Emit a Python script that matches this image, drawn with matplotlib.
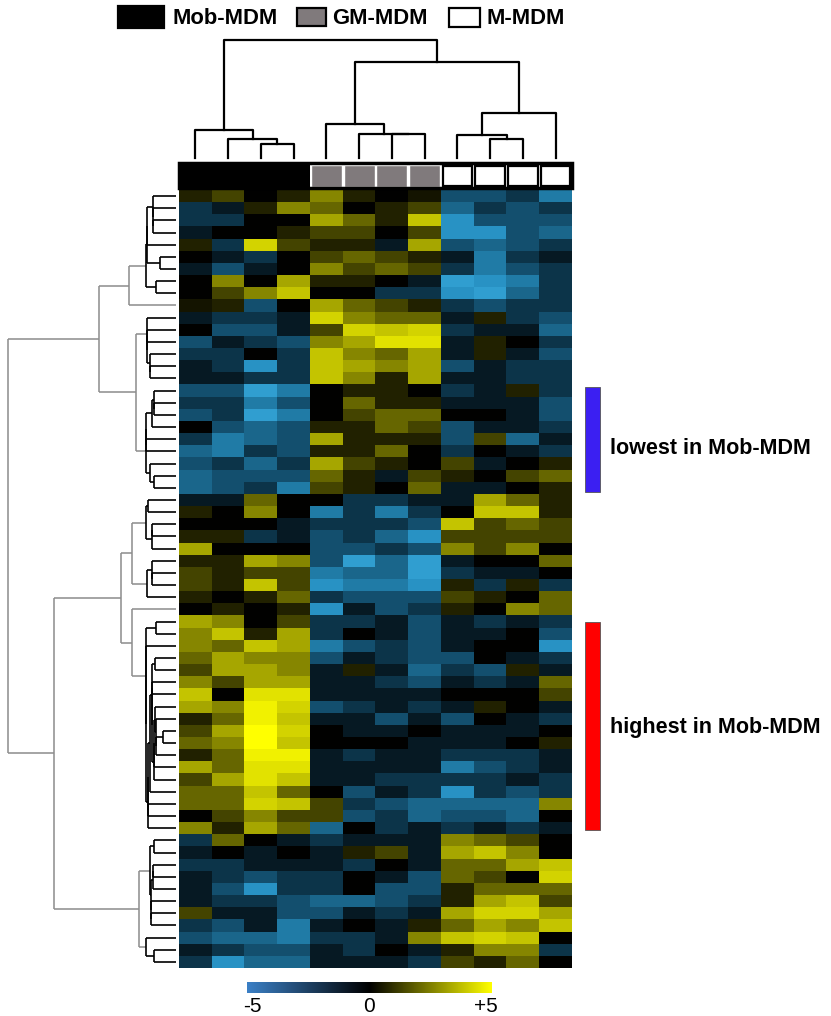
import numpy as np
import matplotlib
matplotlib.use("Agg")
import matplotlib.pyplot as plt
import matplotlib.patches as patches
from matplotlib.colors import LinearSegmentedColormap

plt.rcParams['font.family'] = ['Liberation Sans', 'DejaVu Sans']

W, H = 831, 1016

groups = ["Mob-MDM", "GM-MDM", "M-MDM"]
group_colors = ["#000000", "#807a7c", "#ffffff"]
sample_group = [0, 0, 0, 0, 1, 1, 1, 1, 2, 2, 2, 2]

# column tree, scipy style: (left id, right id, height); leaves are 0..11
col_merges = [
    (2, 3, 14), (1, 12, 19), (0, 13, 28),
    (6, 7, 24), (5, 15, 24), (4, 16, 34),
    (9, 10, 19), (8, 18, 23), (19, 11, 45),
    (17, 20, 96), (14, 21, 118),
]

# log2 ratio per gene band (rows, top to bottom) x sample (columns)
expr_rows = [
    [0.5, 1, 0, 0.5, 2, 0.5, 0, 0.3, -1.5, -1.5, -1, -2.5],
    [-1, -0.5, 0.5, 2, 1.5, 0, 0.5, 1, -2, -1, -1.5, -1],
    [-1, -1, 0, 0, 2.5, 1.5, 0.5, 3, -3, -1.5, -1.5, -1.5],
    [-0.5, 0, 0, 0.5, 1, 1, 0, 1, -3, -3, -1.5, -2],
    [0.5, -1, 3.5, 1, 0.5, 0.5, -0.5, 2.5, -1.5, -2, -1.5, -1],
    [0, -0.5, -1, 0, 1, 1.5, 1, 0.5, -0.5, -2.5, -1, -0.5],
    [-0.5, -1.5, -0.5, 0, 2, 1, 1.5, 1, -1, -2.5, -1.5, -1],
    [0, 2, 0, 2.5, 0.5, 0.5, 0, -0.5, -3.5, -3, -2.5, -1],
    [0, 1, 2, 3, 0, 0, -1, -1, -3, -3.5, -2, -1],
    [0.3, 0.5, -1.5, 0, 2.5, 1.5, 1, 0.5, -1, -1.5, -1, -1],
    [-0.5, -1, -1, -0.5, 3.5, 2, 1.5, 1.5, -0.5, 0.5, -1, -1.5],
    [0, -1.5, -1.5, -0.5, 1, 3.5, 3, 3.5, -1, -0.5, -0.5, -2],
    [-1.5, -0.5, -1, -1.5, 2, 2.5, 4, 4, -0.5, 0.5, 0, -1],
    [-1, -1, 0, -1, 3, 2, 1.5, 2.5, -0.5, 0.5, -0.5, -1.5],
    [-0.5, -1, -3, -1, 3, 2.5, 2, 2.5, -1.5, -0.5, -1, -1],
    [-0.5, -0.5, -1, -1, 3, 2, 0.5, 2.5, -0.5, -0.5, -1, -1],
    [-1.5, -1.5, -3.5, -2.5, 0, 0.5, 0.5, 0, -1, -0.5, 0.5, -1],
    [-1, -1, -2.5, -1.5, 0, 1.5, 0.5, 0.5, -0.5, -0.5, -0.5, -1.5],
    [-1.5, -1, -3.5, -2.5, 0, 1, 1.5, 1.5, 0, 0, -0.5, -1.5],
    [0, -1.5, -2, -1.5, 0.5, 0.5, 1.5, 1, -1.5, -0.5, -0.5, -1],
    [-1, -2.5, -2, -1.5, 2.5, 0.5, 0.5, 0.5, -1.5, 1, -2, -0.5],
    [-2, -2.5, -1, -1.5, 0.5, 0.5, 1.5, 0, -1, 0, -0.5, -1],
    [-1.5, -1, -2, -1, 2.5, 1, 0.5, 0, 1, -0.5, 0, 0.5],
    [-2, -1.5, -1.5, -1.5, 1.5, 0.5, -0.5, 1, 0.5, 0, 1, 1.5],
    [-2, -1.5, -1, -2.5, 1, 0.5, 0, 1.5, -0.5, -0.5, 0, 0.5],
    [-0.5, -0.5, 1.5, 0, 0, -1, -1, -0.5, -0.5, 2.5, 1.5, 0.5],
    [0.5, 0, 2, 0, -2.5, -1, -2.5, -1, 0, 3, 3, 0.5],
    [0, 0, 0, -0.5, -1, -1, -1, -1.5, 3, 1, 1.5, 1],
    [0.5, 0.5, -1, -0.5, -1.5, -1, -2, -3, 1, 1, 1, 1],
    [2.5, 0, 0, 0, -1.5, -1.5, -1, -1.5, 2, 1, 2, 0],
    [0.5, 0.5, 2.5, 2, -1.5, -3.5, -2, -3.5, -0.5, 0, 0, 1.5],
    [1, 0.5, 1, 1, -2.5, -2, -2, -3.5, -1, -0.5, -0.5, 0],
    [1, 0.5, 3, 1, -3, -2.5, -2.5, -3, 0.5, -1, 0.5, -1],
    [0.5, 0, 0.5, 1.5, -1, -1.5, -1.5, -1.5, 1, 0.5, 0, 1.5],
    [0, 0.5, 0, 0.5, -3, -0.5, -1.5, -1, 0.5, 0, 2, 1.5],
    [2.5, 2, 0, 1, -1, -1, -0.5, -1.5, -0.5, -1, -0.5, -1],
    [2, 3, 0.5, 2.5, -1, 0, -0.5, -1.5, -0.5, -0.5, 0, -1.5],
    [2, 1.5, 3, 2.5, -2.5, -1.5, -1, -1.5, -0.5, 0, 0, -3],
    [1.5, 2.5, 2, 2, -1.5, -0.5, -1, -1.5, -1.5, 0, -0.5, -1],
    [1, 2.5, 2.5, 2, -0.5, 0.5, -0.5, -2, -1, -1.5, 0.5, -0.5],
    [2, 1, 2.5, 2.5, -0.5, -0.5, -1, -1.5, -0.5, -1, -0.5, 1.5],
    [3, 0, 4, 4, -0.5, -0.5, -0.5, -0.5, 0, 0, 0, 1],
    [2.5, 2, 4.5, 3.5, -1.5, -1, -0.5, -1, -0.5, 0.5, 0, -0.5],
    [0.5, 1.5, 4.5, 3, -0.5, -0.5, -1.5, -0.5, -1.5, 0, -0.5, -1],
    [1, 2.5, 5, 3.5, 0, -0.5, -0.5, 0, -0.5, -0.5, -0.5, 0],
    [1.5, 2, 5, 3, 0, 0, 0, -0.5, -0.5, -0.5, 0, 0.5],
    [0.5, 1.5, 4.5, 4.5, -0.5, -1, -0.5, -0.5, -1, -1, -1, -0.5],
    [2.5, 1.5, 4, 4, -0.5, -0.5, -0.5, -0.5, -2.5, -1.5, -1, -0.5],
    [1, 2.5, 4, 3, -0.5, -0.5, -1, -1, -1, -1, -0.5, -1],
    [1.5, 1.5, 3, 1.5, 0, -1.5, -0.5, -1, -3, -1, -1.5, -1],
    [1.5, 1.5, 3.5, 3, 1, -1, -1.5, -2, -2, -2, -2, 2],
    [0, 1, 2, 1, 1, -1.5, -1, -2, -1.5, -1.5, -2, 0],
    [2, 0.5, 2.5, 1.5, -2, 0, -1, -0.5, -1, -0.5, -1, -0.5],
    [-1, 1.5, 0, -0.5, -1, -0.5, -0.5, -0.5, 2, 1.5, 1, 0],
    [-0.5, 0, -0.5, 0, -0.5, 0.5, 1, -0.5, 2.5, 3, 2, 0],
    [-1, -1, -0.5, -0.5, -0.5, -1, 0, -0.5, 1.5, 1.5, 2.5, 3],
    [-0.5, -1, -1.5, -1, -1, 0, -0.5, -1.5, 1.5, 1, 0, 3.5],
    [-0.5, -1.5, -3, -1, -1, 0, -1.5, -1.5, 0.5, 1.5, 1.5, 1.5],
    [-0.5, -1, -1, -1.5, -2, -2, -1.5, -1, 0.5, 2.5, 3, 1],
    [1, -0.5, -0.5, -1.5, -1.5, -0.5, -1, -0.5, 2.5, 3.5, 3.5, 2.5],
    [-1, -1.5, -0.5, -2.5, -0.5, 0, -0.5, 0.5, 1.5, 2.5, 2, 3],
    [-1.5, -2, -2, -2.5, -1, -1, -0.5, 2, 3, 3.5, 3, 0],
    [-0.5, -1, -1.5, -1.5, -0.5, -1, 0, -0.5, 0.5, 2, 2, -1],
    [-1, -3, -2, -2, -0.5, -0.5, -0.5, -1, 1, 0.5, 1.5, 0],
]

# main row clusters (row ranges) and the heights they join at
row_groups = [(0, 10), (10, 25), (25, 34), (34, 53), (53, 64)]
row_group_heights = [0.28, 0.24, 0.26, 0.26, 0.22]
# groups are ids 0..4, new nodes get 5, 6, ...
row_top_merges = [(0, 1, 0.46), (2, 3, 0.33), (6, 4, 0.73), (5, 7, 1.0)]

cbar_ticks = [-5, 0, 5]
cbar_labels = ["-5", "0", "+5"]

data = np.array(expr_rows, dtype=float)
n_rows, n_cols = data.shape

# heatmap colours, slightly brighter mid-range than a plain 3-stop ramp
cmap = LinearSegmentedColormap.from_list(
    "blue_black_yellow",
    [(0.0, "#48c4f4"), (0.2, "#2892c4"), (0.35, "#134f6e"), (0.5, "#000000"),
     (0.65, "#666600"), (0.8, "#c4c400"), (1.0, "#ffff00")])
# the colour key in the figure is drawn with a duller blue end
cmap_key = LinearSegmentedColormap.from_list("key", ["#3b80c6", "#000000", "#ffff00"])


def fig_box(x0, y0, x1, y1):
    """pixel box (top-left origin) -> add_axes rect"""
    return [x0 / W, 1 - y1 / H, (x1 - x0) / W, (y1 - y0) / H]


def adjacent_tree(block, offset):
    """
    Agglomerative clustering that only joins neighbouring clusters,
    so the leaf order stays the same as the heatmap rows.
    """
    clusters = [{"n": 1, "y": offset + i + 0.5, "h": 0.0, "kids": None} for i in range(len(block))]
    means = [block[i].copy() for i in range(len(block))]
    while len(clusters) > 1:
        d = [np.linalg.norm(means[i] - means[i + 1]) for i in range(len(clusters) - 1)]
        k = int(np.argmin(d))
        a, b = clusters[k], clusters[k + 1]
        node = {"n": a["n"] + b["n"], "y": (a["y"] + b["y"]) / 2,
                "h": max(d[k], a["h"], b["h"]), "kids": (a, b)}
        means[k] = (means[k] * a["n"] + means[k + 1] * b["n"]) / node["n"]
        del means[k + 1]
        clusters[k] = node
        del clusters[k + 1]
    return clusters[0]


def internal_nodes(node, out):
    if node["kids"] is not None:
        out.append(node)
        for kid in node["kids"]:
            internal_nodes(kid, out)
    return out


inner_max = 0.18


def draw_row_node(ax, node):
    if node["kids"] is None:
        return
    a, b = node["kids"]
    low = node["h"] <= inner_max + 1e-9
    col = "#000000" if low else "#8c8c8c"
    lw = 1.2 if low else 1.1
    for kid in (a, b):
        ax.plot([kid["h"], node["h"]], [kid["y"], kid["y"]], color=col, lw=lw, solid_capstyle="butt")
        draw_row_node(ax, kid)
    ax.plot([node["h"], node["h"]], [a["y"], b["y"]], color=col, lw=lw, solid_capstyle="butt")


fig = plt.figure(figsize=(W / 100, H / 100), dpi=100)

# overlay for legend, side bars and labels
ax_o = fig.add_axes([0, 0, 1, 1])
ax_o.set_xlim(0, W)
ax_o.set_ylim(H, 0)
ax_o.set_axis_off()

legend_boxes = [(118, 6, 46, 22), (297, 8, 29, 18), (449, 8, 31, 19)]
legend_text_x = [173, 332, 487]
for (bx, by, bw, bh), gname, gcol, tx in zip(legend_boxes, groups, group_colors, legend_text_x):
    ax_o.add_patch(patches.Rectangle((bx, by), bw, bh, facecolor=gcol, edgecolor="black", lw=1.6))
    ax_o.text(tx, by + bh / 2 + 1, gname, fontsize=15.8, fontweight="bold", ha="left", va="center")

ax_o.add_patch(patches.Rectangle((585, 387), 15, 105, facecolor="#3b1ff2", edgecolor="#555555", lw=0.6))
ax_o.add_patch(patches.Rectangle((585, 622), 15, 208, facecolor="#ff0000", edgecolor="#555555", lw=0.6))
ax_o.text(610, 448, "lowest in Mob-MDM", fontsize=15.5, fontweight="bold", ha="left", va="center")
ax_o.text(610, 727, "highest in Mob-MDM", fontsize=15.5, fontweight="bold", ha="left", va="center")

# heatmap
ax_h = fig.add_axes(fig_box(179, 190, 572, 968))
ax_h.imshow(data, aspect="auto", cmap=cmap, vmin=-5, vmax=5, interpolation="nearest")
ax_h.set_axis_off()

# sample annotation bar
ax_b = fig.add_axes(fig_box(179, 163, 572, 188))
ax_b.set_xlim(0, n_cols)
ax_b.set_ylim(0, 1)
ax_b.set_axis_off()
n_mob = sample_group.count(0)
ax_b.add_patch(patches.Rectangle((0, 0), n_mob, 1, facecolor=group_colors[0], edgecolor="none"))
for i, g in enumerate(sample_group):
    if g == 1:
        ax_b.add_patch(patches.Rectangle((i + 0.03, 0.06), 0.94, 0.88, facecolor=group_colors[1],
                                         edgecolor="white", lw=1.0))
    elif g == 2:
        ax_b.add_patch(patches.Rectangle((i + 0.05, 0.1), 0.9, 0.8, facecolor=group_colors[2],
                                         edgecolor="black", lw=1.6))
ax_b.add_patch(patches.Rectangle((0, 0), n_cols, 1, facecolor="none", edgecolor="black", lw=2.5, clip_on=False))

# column dendrogram
ax_c = fig.add_axes(fig_box(179, 30, 572, 160))
ax_c.set_xlim(0, n_cols)
ax_c.set_ylim(-2, 128)
ax_c.set_axis_off()
pos = {i: (i + 0.5, 0.0) for i in range(n_cols)}
for k, (a, b, h) in enumerate(col_merges):
    xa, ha = pos[a]
    xb, hb = pos[b]
    ax_c.plot([xa, xa, xb, xb], [ha, h, h, hb], color="black", lw=1.6)
    pos[n_cols + k] = ((xa + xb) / 2, h)

# row dendrogram
ax_r = fig.add_axes(fig_box(5, 190, 176, 968))
ax_r.set_xlim(1.02, 0)
ax_r.set_ylim(n_rows, 0)
ax_r.set_axis_off()

nodes = {}
for gi, ((lo, hi), gh) in enumerate(zip(row_groups, row_group_heights)):
    root = adjacent_tree(data[lo:hi], lo)
    inner = internal_nodes(root, [])[1:]
    hmax = max([nd["h"] for nd in inner] + [1e-9])
    for nd in inner:
        nd["h"] = inner_max * (nd["h"] / hmax) ** 0.8
    root["h"] = gh
    nodes[gi] = root

next_id = len(row_groups)
for a, b, h in row_top_merges:
    nodes[next_id] = {"n": nodes[a]["n"] + nodes[b]["n"], "y": (nodes[a]["y"] + nodes[b]["y"]) / 2,
                      "h": h, "kids": (nodes[a], nodes[b])}
    next_id += 1
draw_row_node(ax_r, nodes[next_id - 1])

# colour key
ax_k = fig.add_axes(fig_box(247, 982, 492, 993))
ax_k.imshow(np.linspace(-5, 5, 256)[None, :], aspect="auto", cmap=cmap_key, vmin=-5, vmax=5,
            extent=(-5.25, 5.25, 0, 1))
ax_k.set_xlim(-5.25, 5.25)
ax_k.set_axis_off()
for t, lab in zip(cbar_ticks, cbar_labels):
    ax_k.text(t, -0.35, lab, fontsize=15, ha="center", va="top", transform=ax_k.get_xaxis_transform())

fig.savefig("out.png", dpi=100)
